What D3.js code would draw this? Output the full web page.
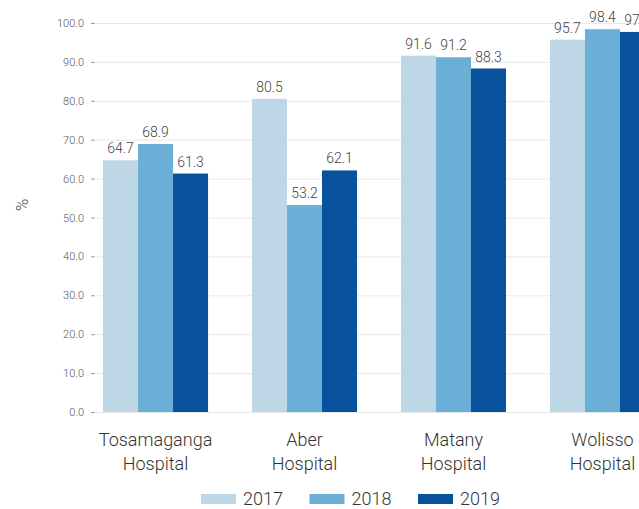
<!DOCTYPE html>
<html>
<head>
<meta charset="utf-8">
<script src="https://cdn.jsdelivr.net/npm/d3@7"></script>
<style>
  body { margin: 0; background: #fff; }
  text { font-family: Roboto, "Noto Sans", sans-serif; font-weight: 300; }
</style>
</head>
<body>
<div id="chart"></div>
<script>
// data
var hospitals = ["Tosamaganga|Hospital", "Aber|Hospital", "Matany|Hospital", "Wolisso|Hospital"];
var years = ["2017", "2018", "2019"];
var v2017 = [64.7, 80.5, 91.6, 95.7];
var v2018 = [68.9, 53.2, 91.2, 98.4];
var v2019 = [61.3, 62.1, 88.3, 97.7];
var yTicks = [0, 10, 20, 30, 40, 50, 60, 70, 80, 90, 100];
var colors = ["#bdd7e7", "#6baed6", "#08519c"];

var series = [v2017, v2018, v2019];
var rows = hospitals.map(function (h, i) {
  return { name: h, values: years.map(function (y, j) { return { year: y, v: series[j][i] }; }) };
});

var width = 639, height = 509;
var svg = d3.select("#chart").append("svg")
  .attr("width", width).attr("height", height);

var y = d3.scaleLinear().domain([0, 100]).range([412, 23]);
var x0 = d3.scaleBand().domain(hospitals).range([92, 666])
  .paddingInner(0.295).paddingOuter(0.074);
var x1 = d3.scaleBand().domain(years).range([0, x0.bandwidth()]);
var color = d3.scaleOrdinal().domain(years).range(colors);

// grid
svg.append("g").selectAll("line")
  .data(yTicks).enter().append("line")
  .attr("x1", 96).attr("x2", width)
  .attr("y1", function (d) { return y(d) + 0.5; })
  .attr("y2", function (d) { return y(d) + 0.5; })
  .attr("stroke", "#e8e8e8").attr("stroke-width", 1);

// y axis
var yAxis = svg.append("g")
  .attr("transform", "translate(95,0)")
  .call(d3.axisLeft(y).tickValues(yTicks).tickFormat(d3.format(".1f")).tickSize(4).tickPadding(7));
yAxis.select(".domain").remove();
yAxis.selectAll(".tick line").attr("stroke", "#999");
yAxis.selectAll(".tick text").attr("fill", "#555").style("font-size", "11px")
  .style("font-family", "Roboto, sans-serif").style("font-weight", 300);

svg.append("text")
  .attr("transform", "translate(28,205) rotate(-90)")
  .attr("text-anchor", "middle")
  .attr("fill", "#444").style("font-size", "17px")
  .text("%");

// bars
var groups = svg.append("g").selectAll("g")
  .data(rows).enter().append("g")
  .attr("transform", function (d) { return "translate(" + x0(d.name) + ",0)"; });

groups.selectAll("rect")
  .data(function (d) { return d.values; }).enter().append("rect")
  .attr("x", function (d) { return x1(d.year); })
  .attr("y", function (d) { return y(d.v); })
  .attr("width", x1.bandwidth())
  .attr("height", function (d) { return y(0) - y(d.v); })
  .attr("fill", function (d) { return color(d.year); });

groups.selectAll("text.val")
  .data(function (d) { return d.values; }).enter().append("text")
  .attr("class", "val")
  .attr("x", function (d) { return x1(d.year) + x1.bandwidth() / 2; })
  .attr("y", function (d) { return y(d.v) - 7; })
  .attr("text-anchor", "middle")
  .attr("fill", "#444").style("font-size", "14px")
  .text(function (d) { return d.v.toFixed(1); });

// category labels
var cat = groups.append("text")
  .attr("x", x0.bandwidth() / 2)
  .attr("y", 446)
  .attr("text-anchor", "middle")
  .attr("fill", "#333").style("font-size", "18px");
cat.selectAll("tspan")
  .data(function (d) { return d.name.split("|"); }).enter().append("tspan")
  .attr("x", x0.bandwidth() / 2)
  .attr("dy", function (d, i) { return i ? 24 : 0; })
  .text(function (d) { return d; });

// legend
var legend = svg.append("g").selectAll("g")
  .data(years).enter().append("g")
  .attr("transform", function (d, i) { return "translate(" + (201 + i * 108.5) + ",494)"; });
legend.append("rect")
  .attr("width", 35).attr("height", 10)
  .attr("fill", function (d) { return color(d); });
legend.append("text")
  .attr("x", 42).attr("y", 11)
  .attr("fill", "#333").style("font-size", "18px")
  .text(function (d) { return d; });
</script>
</body>
</html>
